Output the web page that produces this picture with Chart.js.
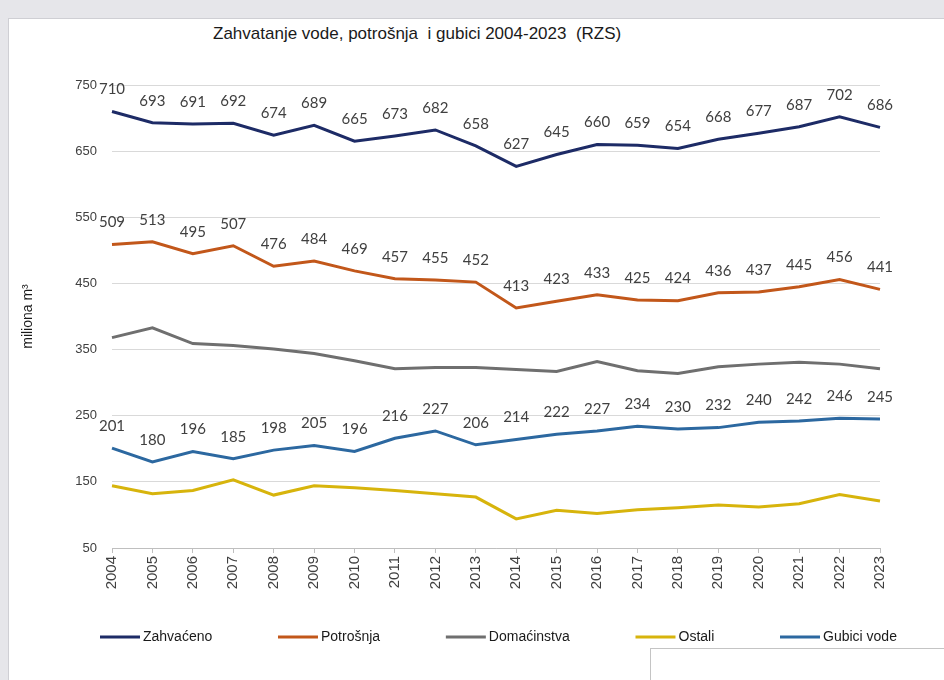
<!DOCTYPE html>
<html>
<head>
<meta charset="utf-8">
<script src="https://cdn.jsdelivr.net/npm/chart.js@4.4.1/dist/chart.umd.min.js"></script>
<style>
  html, body { margin: 0; padding: 0; }
  body { width: 944px; height: 680px; background: #e6e6ea; position: relative; overflow: hidden; }
  #panel { position: absolute; left: 8px; top: 18px; width: 936px; height: 662px; background: #fff; border-left: 1px solid #cfcfd4; border-top: 1px solid #cfcfd4; box-sizing: border-box; }
  #box { position: absolute; left: 650px; top: 648px; width: 300px; height: 40px; background: #fff; border: 1px solid #c4c4c4; box-sizing: border-box; }
  #title { position: absolute; left: 213px; top: 24px; font-family: 'Liberation Sans Narrow', 'Arial Narrow', 'Liberation Sans', Arial, sans-serif; font-size: 17px; color: #1a1a1a; white-space: pre; }
  canvas { position: absolute; left: 0; top: 0; }
</style>
</head>
<body>
<div id="panel"></div>
<div id="box"></div>
<div id="title">Zahvatanje vode, potrošnja  i gubici 2004-2023  (RZS)</div>
<canvas id="c" width="944" height="680"></canvas>
<script>
const years = ['2004','2005','2006','2007','2008','2009','2010','2011','2012','2013','2014','2015','2016','2017','2018','2019','2020','2021','2022','2023'];
const zahvaceno = [710,693,691,692,674,689,665,673,682,658,627,645,660,659,654,668,677,687,702,686];
const potrosnja = [509,513,495,507,476,484,469,457,455,452,413,423,433,425,424,436,437,445,456,441];
const domacinstva = [368,383,359,356,351,344,333,321,323,323,320,317,332,318,314,324,328,331,328,321];
const ostali = [144,132,137,153,130,144,141,137,132,127,94,107,102,108,111,115,112,117,131,121];
const gubici = [201,180,196,185,198,205,196,216,227,206,214,222,227,234,230,232,240,242,246,245];
const seriesNames = ['Zahvaćeno','Potrošnja','Domaćinstva','Ostali','Gubici vode'];
const yTitle = 'miliona m³';

const NARROW = "'Liberation Sans Narrow', 'Arial Narrow', 'Liberation Sans', Arial, sans-serif";
const colors = ['#1d2b66', '#c2571a', '#6f6f6f', '#d7b40c', '#2c68a0'];
const showLabels = [true, true, false, false, true];

function ds(i, data) {
  return {
    label: seriesNames[i], data: data,
    borderColor: colors[i], backgroundColor: colors[i],
    borderWidth: 3, pointRadius: 0, tension: 0, showValues: showLabels[i]
  };
}

const valueLabels = {
  id: 'valueLabels',
  afterDatasetsDraw(chart) {
    const ctx = chart.ctx;
    ctx.save();
    ctx.font = "15px Lato, 'Open Sans', sans-serif";
    ctx.fillStyle = '#404040';
    ctx.textAlign = 'center';
    ctx.textBaseline = 'middle';
    chart.data.datasets.forEach((d, i) => {
      if (!d.showValues) return;
      const meta = chart.getDatasetMeta(i);
      meta.data.forEach((pt, j) => {
        ctx.fillText(String(d.data[j]), pt.x, pt.y - 22);
      });
    });
    ctx.restore();
  }
};

const lineLegend = {
  id: 'lineLegend',
  afterDraw(chart) {
    const ctx = chart.ctx;
    ctx.save();
    ctx.font = '14px ' + NARROW;
    ctx.textBaseline = 'middle';
    const y = 637, lineLen = 40, gapText = 3;
    const widths = chart.data.datasets.map(d => lineLen + gapText + ctx.measureText(d.label).width);
    const startX = 100, lastStart = 780;
    const gap = (lastStart - startX - widths.slice(0, 4).reduce((a, b) => a + b, 0)) / 4;
    let x = startX;
    chart.data.datasets.forEach((d, i) => {
      ctx.strokeStyle = d.borderColor;
      ctx.lineWidth = 3;
      ctx.beginPath();
      ctx.moveTo(x, y);
      ctx.lineTo(x + lineLen, y);
      ctx.stroke();
      ctx.fillStyle = '#1a1a1a';
      ctx.fillText(d.label, x + lineLen + gapText, y);
      x += widths[i] + gap;
    });
    ctx.restore();
  }
};

new Chart(document.getElementById('c'), {
  type: 'line',
  data: {
    labels: years,
    datasets: [ds(0, zahvaceno), ds(1, potrosnja), ds(2, domacinstva), ds(3, ostali), ds(4, gubici)]
  },
  options: {
    responsive: false,
    animation: false,
    devicePixelRatio: 1,
    layout: { padding: { left: 0, right: 64, top: 85, bottom: 50 } },
    plugins: { legend: { display: false }, title: { display: false }, tooltip: { enabled: false } },
    scales: {
      x: {
        offset: false,
        grid: { display: true, drawOnChartArea: false, drawTicks: true, tickLength: 5, color: '#bfbfbf' },
        border: { display: true, color: '#bfbfbf', width: 1 },
        ticks: { minRotation: 90, maxRotation: 90, autoSkip: false, padding: 3, color: '#404040', font: { family: NARROW, size: 15 } },
        afterFit(scale) { scale.height = 82; }
      },
      y: {
        min: 50, max: 750,
        grid: { color: '#d9d9d9', drawTicks: false, lineWidth: 1 },
        border: { display: false },
        ticks: { stepSize: 100, padding: 15, color: '#404040', font: { family: NARROW, size: 13 } },
        title: { display: true, text: yTitle, color: '#1a1a1a', padding: { top: 20, bottom: 0 }, font: { family: NARROW, size: 14 } },
        afterFit(scale) { scale.width = 112; }
      }
    }
  },
  plugins: [valueLabels, lineLegend]
});
</script>
</body>
</html>
